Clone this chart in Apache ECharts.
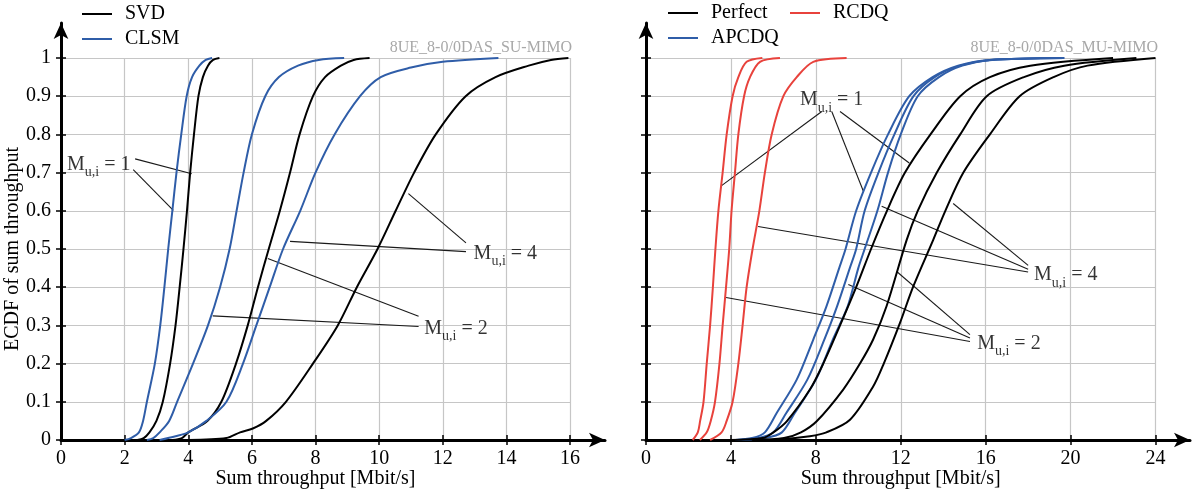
<!DOCTYPE html>
<html><head><meta charset="utf-8">
<script src="https://cdn.jsdelivr.net/npm/echarts@6/dist/echarts.min.js"></script>
<style>html,body{margin:0;padding:0;background:#fff}#c{width:1200px;height:490px}</style>
</head><body><div id="c"></div>
<script>
// ---------- tick labels ----------
const xTicksLeft = [0, 2, 4, 6, 8, 10, 12, 14, 16];
const xTicksRight = [0, 4, 8, 12, 16, 20, 24];
const yTicks = [0, 0.1, 0.2, 0.3, 0.4, 0.5, 0.6, 0.7, 0.8, 0.9, 1];

// ---------- left panel: SU-MIMO (x: Mbit/s, y: ECDF) ----------
const svdMu1 = [[2.4,0],[2.6,0.005],[2.78,0.02],[3.0,0.05],[3.2,0.1],[3.43,0.2],[3.6,0.3],[3.73,0.4],[3.85,0.5],[3.96,0.6],[4.06,0.7],[4.18,0.8],[4.32,0.9],[4.46,0.95],[4.62,0.98],[4.78,0.995],[4.98,1]];
const clsmMu1 = [[2.0,0],[2.2,0.005],[2.45,0.02],[2.58,0.05],[2.7,0.1],[2.95,0.2],[3.12,0.3],[3.25,0.4],[3.37,0.5],[3.5,0.6],[3.63,0.7],[3.78,0.8],[3.95,0.9],[4.12,0.95],[4.35,0.98],[4.55,0.995],[4.75,1]];
const svdMu2 = [[3.5,0],[3.8,0.005],[4.0,0.02],[4.6,0.05],[5.04,0.1],[5.5,0.2],[5.87,0.3],[6.19,0.4],[6.53,0.5],[6.88,0.6],[7.2,0.7],[7.5,0.8],[7.92,0.9],[8.3,0.95],[8.8,0.98],[9.2,0.995],[9.7,1]];
const clsmMu2 = [[2.7,0],[2.9,0.005],[3.1,0.02],[3.4,0.05],[3.65,0.1],[4.15,0.2],[4.62,0.3],[5.0,0.4],[5.3,0.5],[5.52,0.6],[5.74,0.7],[6.0,0.8],[6.42,0.9],[6.85,0.95],[7.45,0.98],[8.1,0.995],[8.9,1]];
const svdMu4 = [[4.0,0],[5.2,0.005],[5.63,0.02],[6.03,0.03],[6.45,0.05],[7.07,0.1],[7.92,0.2],[8.7,0.3],[9.3,0.4],[9.95,0.5],[10.52,0.6],[11.1,0.7],[11.78,0.8],[12.72,0.9],[13.66,0.95],[14.7,0.98],[15.4,0.995],[15.95,1]];
const clsmMu4 = [[3.1,0],[3.6,0.01],[4.0,0.02],[4.57,0.05],[5.2,0.1],[5.72,0.2],[6.14,0.3],[6.56,0.4],[6.98,0.5],[7.52,0.6],[8.0,0.7],[8.6,0.8],[9.4,0.9],[10.05,0.95],[11.0,0.975],[12.0,0.99],[13.75,1]];

// ---------- right panel: MU-MIMO ----------
const rcdqMu1 = [[2.2,0],[2.44,0.02],[2.55,0.05],[2.71,0.1],[2.86,0.2],[3.02,0.3],[3.15,0.4],[3.27,0.5],[3.41,0.6],[3.61,0.7],[3.8,0.8],[4.08,0.9],[4.35,0.95],[4.74,0.99],[5.48,1]];
const rcdqMu2 = [[2.54,0],[2.86,0.02],[3.05,0.05],[3.25,0.1],[3.46,0.2],[3.61,0.3],[3.77,0.4],[3.92,0.5],[4.03,0.6],[4.19,0.7],[4.35,0.8],[4.62,0.9],[4.9,0.95],[5.37,0.99],[6.31,1]];
const rcdqMu4 = [[3.02,0],[3.56,0.02],[3.8,0.05],[4.08,0.1],[4.35,0.2],[4.55,0.3],[4.74,0.4],[5.02,0.5],[5.34,0.6],[5.6,0.7],[5.92,0.8],[6.47,0.9],[7.1,0.95],[7.88,0.99],[9.45,1]];
const apcdqMu1 = [[4.2,0],[5.0,0.005],[5.6,0.02],[6.15,0.07],[7.1,0.158],[7.88,0.263],[8.5,0.35],[9.1,0.45],[9.4,0.5],[9.9,0.6],[10.6,0.7],[11.4,0.8],[12.4,0.9],[13.5,0.95],[14.7,0.98],[16.2,0.995],[19.7,1]];
const apcdqMu2 = [[4.3,0],[5.3,0.005],[6.0,0.02],[6.6,0.07],[7.6,0.158],[8.4,0.263],[9.0,0.35],[9.6,0.45],[9.9,0.5],[10.3,0.6],[10.95,0.7],[11.7,0.8],[12.6,0.9],[13.6,0.95],[14.8,0.98],[16.2,0.995],[19.7,1]];
const apcdqMu4 = [[4.5,0],[5.6,0.005],[6.4,0.02],[7.0,0.07],[8.0,0.158],[8.8,0.263],[9.5,0.35],[10.0,0.45],[10.3,0.5],[10.9,0.6],[11.4,0.7],[12.0,0.8],[12.8,0.9],[13.8,0.95],[14.9,0.98],[16.3,0.995],[19.7,1]];
const perfectMu1 = [[4.0,0],[5.5,0.005],[6.0,0.02],[6.63,0.049],[7.72,0.132],[8.35,0.2],[9.14,0.3],[9.9,0.4],[10.6,0.5],[11.35,0.6],[12.2,0.7],[13.4,0.8],[14.8,0.9],[16.2,0.95],[18.1,0.98],[22,1]];
const perfectMu2 = [[5.0,0],[6.5,0.005],[7.3,0.02],[8.04,0.049],[9.29,0.132],[10.08,0.2],[10.7,0.263],[11.33,0.35],[12.28,0.524],[12.8,0.6],[13.7,0.7],[14.8,0.8],[16.05,0.9],[17.8,0.95],[19.7,0.98],[23.1,1]];
const perfectMu4 = [[6.0,0],[7.72,0.01],[8.5,0.02],[9.61,0.053],[10.7,0.14],[11.2,0.2],[11.96,0.306],[12.59,0.402],[13.53,0.524],[14.1,0.6],[14.95,0.7],[16.2,0.8],[17.6,0.9],[19.2,0.95],[20.8,0.98],[24,1]];

// ---------- annotations (data coordinates) ----------
const annLabelsLeft = [{p:[0.19,0.726], t:'1'}, {p:[12.97,0.494], t:'4'}, {p:[11.42,0.297], t:'2'}];
const annLinesLeft = [
  [[2.33,0.736],[4.11,0.697]], [[2.27,0.708],[3.53,0.601]],
  [[12.73,0.516],[10.92,0.645]], [[12.73,0.493],[7.2,0.52]],
  [[11.24,0.324],[6.5,0.475]], [[11.24,0.297],[4.77,0.325]]
];
const annLabelsRight = [{p:[7.25,0.895], t:'1'}, {p:[18.28,0.437], t:'4'}, {p:[15.6,0.258], t:'2'}];
const annLinesRight = [
  [[8.28,0.86],[3.56,0.666]], [[8.75,0.86],[10.24,0.651]], [[9.14,0.86],[12.4,0.725]],
  [[18.0,0.457],[14.47,0.619]], [[18.0,0.447],[11.1,0.612]], [[18.0,0.44],[5.28,0.559]],
  [[15.26,0.276],[11.81,0.441]], [[15.26,0.267],[9.53,0.407]], [[15.26,0.258],[3.77,0.373]]
];

// ---------- layout ----------
const FONT = 'Liberation Serif, Times New Roman, serif';
const BLACK = '#000000', BLUE = '#2f5da8', RED = '#e8423c';
const TOP = 58, BOT = 440, H = BOT - TOP;
const L = {x0: 61, x1: 570, arrowEnd: 605, max: 16};
const R = {x0: 646, x1: 1155.5, arrowEnd: 1190, max: 24};
const arrowTop = 23;

function dataGrid(p){ return {left: p.x0, top: TOP, width: p.x1 - p.x0, height: H, outerBoundsMode:'none', containLabel:false}; }
function arrowGrid(p){ return {left: p.x0, top: arrowTop, width: p.arrowEnd - p.x0, height: BOT - arrowTop, outerBoundsMode:'none', containLabel:false}; }

const tickStyle = {color:'#000', width:1.5};
const splitStyle = {color:'#c6c6c6', width:1.2};

function xData(p, ticks, gi){
  return {type:'value', gridIndex: gi, min: 0, max: p.max, interval: ticks[1]-ticks[0],
    axisLine:{show:false}, axisTick:{show:true, length:5, lineStyle:tickStyle},
    axisLabel:{show:true, margin:9, fontSize:20, fontFamily:FONT, color:'#000',
      alignMinLabel:'center', alignMaxLabel:'center'},
    splitLine:{show:true, lineStyle:splitStyle},
    name:'Sum throughput [Mbit/s]', nameLocation:'middle', nameGap:29, nameMoveOverlap:false,
    nameTextStyle:{fontSize:20, fontFamily:FONT, color:'#000'}};
}
function yData(gi, showLabels){
  const ax = {type:'value', gridIndex: gi, min:0, max:1, interval:0.1,
    axisLine:{show:false}, axisTick:{show:true, length:5, lineStyle:tickStyle},
    axisLabel:{show:showLabels, margin:10, fontSize:20, fontFamily:FONT, color:'#000',
      verticalAlign:'middle', verticalAlignMinLabel:'middle', verticalAlignMaxLabel:'middle'},
    splitLine:{show:true, lineStyle:splitStyle}};
  if (showLabels) {
    ax.name = 'ECDF of sum throughput'; ax.nameLocation = 'middle'; ax.nameGap = 38; ax.nameMoveOverlap = false;
    ax.nameTextStyle = {fontSize:20, fontFamily:FONT, color:'#000'};
  }
  return ax;
}
function xArrow(p, ticks, gi){
  const mx = p.max * (p.arrowEnd - p.x0) / (p.x1 - p.x0);
  return {type:'value', gridIndex: gi, min:0, max: mx, interval: ticks[1]-ticks[0],
    axisLine:{show:true, onZero:false, symbol:['none','arrow'], symbolSize:[11,16], lineStyle:{color:'#000', width:3}},
    axisTick:{show:true, inside:true, length:5, lineStyle:tickStyle, customValues: ticks},
    axisLabel:{show:false}, splitLine:{show:false}};
}
function yArrow(gi){
  const mx = (BOT - arrowTop) / H;
  return {type:'value', gridIndex: gi, min:0, max: mx, interval:0.1,
    axisLine:{show:true, onZero:false, symbol:['none','arrow'], symbolSize:[11,16], lineStyle:{color:'#000', width:3}},
    axisTick:{show:true, inside:true, length:5, lineStyle:tickStyle, customValues: yTicks},
    axisLabel:{show:false}, splitLine:{show:false}};
}

function curve(name, data, color, idx){
  return {type:'line', name, data, xAxisIndex: idx, yAxisIndex: idx, symbol:'none', showSymbol:false,
    smooth:0.3,
    lineStyle:{color, width:2}, itemStyle:{color}, z:4, animation:false};
}
function annLines(lines, idx){
  return {type:'lines', coordinateSystem:'cartesian2d', xAxisIndex: idx, yAxisIndex: idx, z:3,
    lineStyle:{color:'#1a1a1a', width:1.1, opacity:1}, animation:false,
    data: lines.map(c => ({coords: c}))};
}
function annText(labels, idx){
  return {type:'scatter', xAxisIndex: idx, yAxisIndex: idx, symbolSize: 0, z:5, animation:false, silent:true,
    data: labels.map(l => ({value: l.p, t: l.t})),
    label:{show:true, position:'right', distance:0, offset:[0,4],
      formatter: (prm) => '{m|M}{s|u,i}{m| = ' + prm.data.t + '}',
      rich:{ m:{fontSize:20, fontFamily:FONT, color:'#000', lineHeight:24, verticalAlign:'top'},
             s:{fontSize:14, fontFamily:FONT, color:'#000', lineHeight:14, padding:[11,0,0,0], verticalAlign:'top'} }}};
}

const legendCommon = {orient:'vertical', itemWidth:30, itemHeight:2, itemGap:5, padding:0, icon:'rect',
  textStyle:{fontSize:20, fontFamily:FONT, color:'#000', padding:[0,0,0,8]}};

const chart = echarts.init(document.getElementById('c'), null, {renderer:'canvas'});
chart.setOption({
  animation:false,
  backgroundColor:'#fff',
  title:[
    {text:'8UE_8-0/0DAS_SU-MIMO', right: 1200-572, top: 40, padding:0, textStyle:{fontSize:16, fontWeight:'normal', color:'#a8a8a8', fontFamily:FONT}},
    {text:'8UE_8-0/0DAS_MU-MIMO', right: 1200-1158, top: 40, padding:0, textStyle:{fontSize:16, fontWeight:'normal', color:'#a8a8a8', fontFamily:FONT}}
  ],
  legend:[
    Object.assign({data:['SVD','CLSM'], left:82, top:4}, legendCommon),
    Object.assign({data:['Perfect','APCDQ'], left:668, top:3}, legendCommon),
    Object.assign({data:['RCDQ'], left:790, top:3}, legendCommon)
  ],
  grid:[dataGrid(L), dataGrid(R), arrowGrid(L), arrowGrid(R)],
  xAxis:[xData(L, xTicksLeft, 0), xData(R, xTicksRight, 1), xArrow(L, xTicksLeft, 2), xArrow(R, xTicksRight, 3)],
  yAxis:[yData(0, true), yData(1, false), yArrow(2), yArrow(3)],
  series:[
    curve('SVD', svdMu1, BLACK, 0), curve('CLSM', clsmMu1, BLUE, 0),
    curve('SVD', svdMu2, BLACK, 0), curve('CLSM', clsmMu2, BLUE, 0),
    curve('SVD', svdMu4, BLACK, 0), curve('CLSM', clsmMu4, BLUE, 0),
    curve('RCDQ', rcdqMu1, RED, 1), curve('RCDQ', rcdqMu2, RED, 1), curve('RCDQ', rcdqMu4, RED, 1),
    curve('APCDQ', apcdqMu1, BLUE, 1), curve('APCDQ', apcdqMu2, BLUE, 1), curve('APCDQ', apcdqMu4, BLUE, 1),
    curve('Perfect', perfectMu1, BLACK, 1), curve('Perfect', perfectMu2, BLACK, 1), curve('Perfect', perfectMu4, BLACK, 1),
    annLines(annLinesLeft, 0), annLines(annLinesRight, 1),
    annText(annLabelsLeft, 0), annText(annLabelsRight, 1)
  ]
});
</script></body></html>
